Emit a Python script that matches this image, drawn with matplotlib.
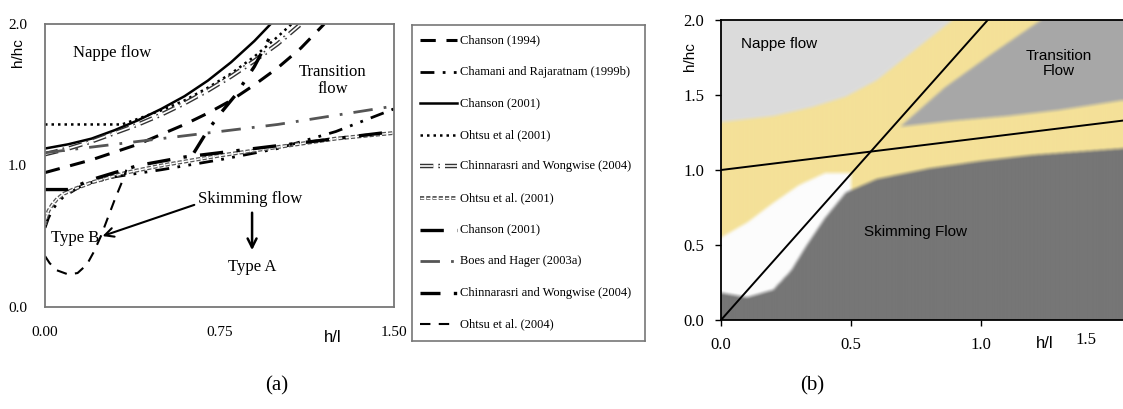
import numpy as np
import matplotlib
matplotlib.use("Agg")
import matplotlib.pyplot as plt
import matplotlib.patheffects as pe

W, H = 1123, 409

# ---------------- data: panel (a) ----------------
chanson1994_x = [0.0, 0.2, 0.4, 0.6, 0.7, 0.8, 0.9, 1.0, 1.1, 1.2]
chanson1994_y = [0.95, 1.04, 1.15, 1.29, 1.37, 1.46, 1.57, 1.69, 1.83, 2.0]

chamani_x = [0.0, 0.015, 0.03, 0.05, 0.08, 0.12, 0.15, 0.2, 0.3, 0.5, 0.75, 1.0, 1.25, 1.5]
chamani_y = [0.56, 0.63, 0.68, 0.73, 0.78, 0.82, 0.85, 0.88, 0.92, 0.97, 1.04, 1.12, 1.24, 1.4]

chanson2001_x = [0.0, 0.1, 0.2, 0.3, 0.4, 0.5, 0.6, 0.7, 0.8, 0.9, 0.97]
chanson2001_y = [1.12, 1.15, 1.19, 1.25, 1.32, 1.40, 1.49, 1.60, 1.73, 1.88, 2.0]

ohtsu2001_x = [0.0, 0.33, 0.4, 0.5, 0.6, 0.7, 0.8, 0.9, 1.0, 1.06]
ohtsu2001_y = [1.29, 1.29, 1.33, 1.39, 1.46, 1.55, 1.65, 1.77, 1.91, 2.0]

chinna2004_x = [0.0, 0.1, 0.2, 0.3, 0.4, 0.5, 0.6, 0.7, 0.8, 0.9, 1.0, 1.1]
chinna2004_y = [1.08, 1.12, 1.17, 1.23, 1.29, 1.36, 1.44, 1.53, 1.63, 1.74, 1.86, 2.0]

ohtsu2001b_x = [0.0, 0.005, 0.015, 0.03, 0.05, 0.08, 0.12, 0.2, 0.35, 0.5, 0.75, 1.0, 1.25, 1.5]
ohtsu2001b_y = [0.58, 0.63, 0.68, 0.72, 0.76, 0.80, 0.83, 0.88, 0.95, 1.0, 1.07, 1.13, 1.19, 1.23]

chanson2001b_x = [0.0, 0.1, 0.2, 0.4, 0.6, 0.8, 1.0, 1.2, 1.5]
chanson2001b_y = [0.83, 0.83, 0.9, 1.0, 1.06, 1.1, 1.14, 1.18, 1.24]

boes_x = [0.0, 0.5, 1.0, 1.5]
boes_y = [1.09, 1.19, 1.29, 1.42]

chinna2004b_x = [0.64, 0.7, 0.76, 0.82, 0.9, 0.98]
chinna2004b_y = [1.09, 1.25, 1.38, 1.5, 1.7, 1.95]

ohtsu2004_x = [0.0, 0.02, 0.05, 0.1, 0.14, 0.18, 0.21, 0.24, 0.27, 0.3, 0.33, 0.35]
ohtsu2004_y = [0.36, 0.31, 0.26, 0.23, 0.24, 0.3, 0.39, 0.5, 0.63, 0.76, 0.88, 0.97]

legend_labels = ["Chanson (1994)", "Chamani and Rajaratnam (1999b)", "Chanson (2001)",
                 "Ohtsu et al (2001)", "Chinnarasri and Wongwise (2004)", "Ohtsu et al. (2001)",
                 "Chanson (2001)", "Boes and Hager (2003a)", "Chinnarasri and Wongwise (2004)",
                 "Ohtsu et al. (2004)"]

a_xticks = [0.0, 0.75, 1.5]
a_xticklabels = ["0.00", "0.75", "1.50"]
a_yticks = [0.0, 1.0, 2.0]
a_yticklabels = ["0.0", "1.0", "2.0"]

# ---------------- data: panel (b) ----------------
b_xticks = [0.0, 0.5, 1.0]
b_xticklabels = ["0.0", "0.5", "1.0"]
b_yticks = [0.0, 0.5, 1.0, 1.5, 2.0]
b_yticklabels = ["0.0", "0.5", "1.0", "1.5", "2.0"]

line1_x = [0.0, 1.6]
line1_y = [1.0, 1.341]
line2_x = [0.0, 1.026]
line2_y = [0.0, 2.0]

# region boundaries
dark_top_x = [0.0, 0.1, 0.2, 0.27, 0.33, 0.4, 0.48, 0.6, 0.8, 1.0, 1.2, 1.6]
dark_top_y = [0.18, 0.15, 0.2, 0.33, 0.5, 0.68, 0.85, 0.94, 1.01, 1.06, 1.1, 1.15]
white_top_x = [0.0, 0.1, 0.2, 0.3, 0.4, 0.5]
white_top_y = [0.55, 0.65, 0.78, 0.9, 0.98, 0.98]
yellow_top_x = [0.0, 0.2, 0.35, 0.48, 0.6, 0.73, 0.89, 1.6]
yellow_top_y = [1.32, 1.36, 1.42, 1.49, 1.6, 1.78, 2.0, 3.0]
mid_low_x = [0.69, 0.9, 1.1, 1.3, 1.6]
mid_low_y = [1.29, 1.33, 1.36, 1.4, 1.48]
mid_left_y = [1.29, 1.55, 1.78, 2.0]
mid_left_x = [0.69, 0.86, 1.045, 1.23]

c_light = np.array([220, 220, 220]) / 255
c_yellow = np.array([244, 225, 152]) / 255
c_mid = np.array([168, 168, 168]) / 255
c_dark = np.array([118, 118, 118]) / 255
c_white = np.array([252, 252, 252]) / 255

serif = "Liberation Serif"
sans = "Liberation Sans"


def rect(x0, y0, x1, y1):
    return [x0 / W, 1 - y1 / H, (x1 - x0) / W, (y1 - y0) / H]


fig = plt.figure(figsize=(W / 100, H / 100), dpi=100)

# ================= panel (a) =================
ax = fig.add_axes(rect(45, 24, 394, 307))
ax.set_xlim(0, 1.5)
ax.set_ylim(0, 2.0)

ax.plot(chanson1994_x, chanson1994_y, color="black", lw=2.2, dashes=(5, 3.5), solid_capstyle="butt")
ax.plot(chamani_x, chamani_y, color="black", lw=2.0, dashes=(5, 3, 1, 3, 1, 3))
ax.plot(chanson2001_x, chanson2001_y, color="black", lw=1.8)
ax.plot(ohtsu2001_x, ohtsu2001_y, color="black", lw=1.8, dashes=(1, 1.6))
ax.plot(chinna2004_x, chinna2004_y, color="white", lw=1.2, dashes=(8, 3, 1, 3),
        path_effects=[pe.Stroke(linewidth=3.2, foreground="#333333"), pe.Normal()])
ax.plot(ohtsu2001b_x, ohtsu2001b_y, color="white", lw=1.0, dashes=(3, 1.5),
        path_effects=[pe.Stroke(linewidth=2.8, foreground="#555555"), pe.Normal()])
ax.plot(chanson2001b_x, chanson2001b_y, color="black", lw=2.4, dashes=(7, 4, 1, 4))
ax.plot(boes_x, boes_y, color="#555555", lw=2.0, dashes=(7, 4, 1, 4))
ax.plot(chinna2004b_x, chinna2004b_y, color="black", lw=2.4, dashes=(6, 4, 1, 4))
ax.plot(ohtsu2004_x, ohtsu2004_y, color="black", lw=1.5, dashes=(5, 4))

for s in ax.spines.values():
    s.set_color("#777777")
    s.set_linewidth(1.3)
ax.set_xticks(a_xticks)
ax.set_xticklabels(a_xticklabels, fontfamily=serif, fontsize=11)
ax.set_yticks(a_yticks)
ax.set_yticklabels(a_yticklabels, fontfamily=serif, fontsize=11)
ax.tick_params(length=0, pad=14)
ax.tick_params(axis="y", pad=13)

ax.text(0.288, 1.795, "Nappe flow", fontfamily=serif, fontsize=12, ha="center", va="center")
ax.text(1.238, 1.60, "Transition\nflow", fontfamily=serif, fontsize=12, ha="center", va="center",
        linespacing=1.15)
ax.text(0.881, 0.763, "Skimming flow", fontfamily=serif, fontsize=12, ha="center", va="center")
ax.text(0.129, 0.488, "Type B", fontfamily=serif, fontsize=12, ha="center", va="center")
ax.text(0.89, 0.283, "Type A", fontfamily=serif, fontsize=12, ha="center", va="center")
ax.annotate("", xy=(0.236, 0.495), xytext=(0.653, 0.728),
            arrowprops=dict(arrowstyle="->", color="black", lw=1.5, mutation_scale=16))
ax.annotate("", xy=(0.89, 0.382), xytext=(0.89, 0.686),
            arrowprops=dict(arrowstyle="->", color="black", lw=1.8, mutation_scale=16))

fig.text(18 / W, 1 - 53 / H, "h/hc", fontfamily=sans, fontsize=11, rotation=90,
         ha="center", va="center")
fig.text(333 / W, 1 - 338 / H, "h/l", fontfamily=sans, fontsize=12, ha="center", va="center")
fig.text(277 / W, 1 - 386 / H, "(a)", fontfamily=serif, fontsize=15, ha="center", va="center")

# ================= legend box =================
lg = fig.add_axes(rect(412, 25, 645, 341))
lg.set_xlim(412, 645)
lg.set_ylim(341, 25)
lg.set_xticks([])
lg.set_yticks([])
for s in lg.spines.values():
    s.set_color("#777777")
    s.set_linewidth(1.2)

styles = [
    dict(color="black", lw=2.2, dashes=(5, 3.5)),
    dict(color="black", lw=2.0, dashes=(5, 3, 1, 3, 1, 3)),
    dict(color="black", lw=1.8),
    dict(color="black", lw=1.8, dashes=(1, 1.6)),
    dict(color="white", lw=1.2, dashes=(8, 3, 1, 3),
         path_effects=[pe.Stroke(linewidth=3.2, foreground="#333333"), pe.Normal()]),
    dict(color="white", lw=1.0, dashes=(3, 1.5),
         path_effects=[pe.Stroke(linewidth=2.8, foreground="#555555"), pe.Normal()]),
    dict(color="black", lw=2.4, dashes=(7, 4, 1, 4)),
    dict(color="#555555", lw=2.0, dashes=(7, 4, 1, 4)),
    dict(color="black", lw=2.4, dashes=(6, 4, 1, 4)),
    dict(color="black", lw=1.5, dashes=(5, 4)),
]
for i, (lab, st) in enumerate(zip(legend_labels, styles)):
    yy = 40 + i * 31.6
    lg.plot([420, 457], [yy, yy], **st)
    lg.text(460, yy, lab, fontfamily=serif, fontsize=9, ha="left", va="center")

# ================= panel (b) =================
PXU = 260.0
X0 = 721
bx_max = (1123 - X0) / PXU
bx = fig.add_axes(rect(X0, 20, 1123, 320))
bx.set_xlim(0, bx_max)
bx.set_ylim(0, 2.0)

nx, ny = 800, 600
gx = np.linspace(0, bx_max, nx)
gy = np.linspace(0, 2.0, ny)
X, Y = np.meshgrid(gx, gy)
dark_top = np.interp(X, dark_top_x, dark_top_y)
white_top = np.interp(X, white_top_x, white_top_y)
yellow_top = np.interp(X, yellow_top_x, yellow_top_y)
mid_low = np.interp(X, mid_low_x, mid_low_y, left=9.0)
mid_left = np.interp(Y, mid_left_y, mid_left_x, right=9.0)

img = np.empty((ny, nx, 3))
img[:] = c_yellow
img[Y > yellow_top] = c_light
mid_mask = (X > mid_left) & (Y > mid_low)
img[mid_mask] = c_mid
img[(Y < white_top) & (X < 0.5)] = c_white
img[Y < dark_top] = c_dark


def blur(a, k):
    ker = np.ones(k) / k
    out = a.copy()
    for ch in range(3):
        c = a[:, :, ch]
        c = np.apply_along_axis(lambda m: np.convolve(np.pad(m, k, mode="edge"), ker, "same")[k:-k], 0, c)
        c = np.apply_along_axis(lambda m: np.convolve(np.pad(m, k, mode="edge"), ker, "same")[k:-k], 1, c)
        out[:, :, ch] = c
    return out


img = blur(img, 9)
bx.imshow(img, extent=[0, bx_max, 0, 2.0], origin="lower", aspect="auto", interpolation="bilinear")
bx.plot(line1_x, line1_y, color="black", lw=1.4)
bx.plot(line2_x, line2_y, color="black", lw=1.4)
bx.set_xlim(0, bx_max)
bx.set_ylim(0, 2.0)

bx.spines["right"].set_visible(False)
for k in ["left", "bottom", "top"]:
    bx.spines[k].set_color("black")
    bx.spines[k].set_linewidth(1.3)
bx.set_xticks(b_xticks)
bx.set_xticklabels(b_xticklabels, fontfamily=serif, fontsize=12)
bx.set_yticks(b_yticks)
bx.set_yticklabels(b_yticklabels, fontfamily=serif, fontsize=12)
bx.tick_params(direction="out", length=4, width=1, pad=8)

bx.text(0.223, 1.84, "Nappe flow", fontfamily=sans, fontsize=11, ha="center", va="center")
bx.text(1.30, 1.71, "Transition\nFlow", fontfamily=sans, fontsize=11, ha="center", va="center",
        linespacing=1.1)
bx.text(0.75, 0.59, "Skimming Flow", fontfamily=sans, fontsize=11, ha="center", va="center")

fig.text(690 / W, 1 - 57 / H, "h/hc", fontfamily=sans, fontsize=11, rotation=90,
         ha="center", va="center")
fig.text(1045 / W, 1 - 343 / H, "h/l", fontfamily=sans, fontsize=12, ha="center", va="center")
fig.text(1086 / W, 1 - 340 / H, "1.5", fontfamily=serif, fontsize=12, ha="center", va="center")
fig.text(812 / W, 1 - 386 / H, "(b)", fontfamily=serif, fontsize=15, ha="center", va="center")

fig.savefig("out.png", dpi=100)
